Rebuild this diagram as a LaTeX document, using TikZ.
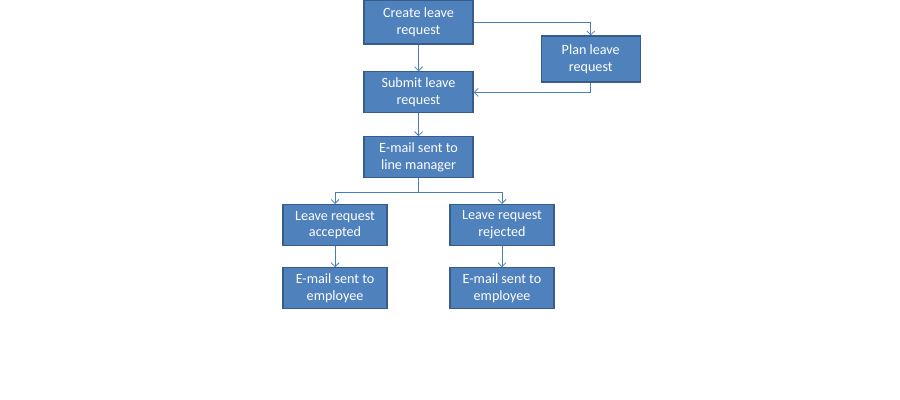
\documentclass[tikz,border=0pt]{standalone}
\usepackage{fontspec}
\setmainfont{Carlito}
\usetikzlibrary{arrows.meta, positioning}
\definecolor{boxfill}{HTML}{4F81BD}
\definecolor{boxline}{HTML}{385D8A}
\definecolor{linkline}{HTML}{4A7EBB}

\begin{document}
\begin{tikzpicture}[
    node distance=20pt,
    stepbox/.style={rectangle, draw=boxline, line width=0.9pt, fill=boxfill, text=white, align=center, minimum width=81.75pt, minimum height=30.75pt, inner sep=1pt, font=\fontsize{10.6}{12.75}\selectfont},
    arrow/.style={draw=linkline, line width=0.6pt, -{Straight Barb[length=3pt,width=6pt]}}
]
    \useasboundingbox (0,0) rectangle (675pt,-300pt);
    \node[stepbox, minimum height=33pt] (create) at (313.9pt,-16.5pt) {Create leave\\request};
    \node[stepbox, below=20pt of create] (submit) {Submit leave\\request};
    \node[stepbox, minimum width=74.25pt, minimum height=34.5pt, right=50.25pt of create, yshift=-27.75pt] (plan) {Plan leave\\request};
    \node[stepbox, below=17pt of submit] (linemgr) {E-mail sent to\\line manager};
    \node[stepbox, minimum width=78pt, below=19.25pt of linemgr, xshift=-62.6pt] (accepted) {Leave request\\accepted};
    \node[stepbox, minimum width=78pt, below=19.25pt of linemgr, xshift=62.6pt] (rejected) {Leave request\\rejected};
    \node[stepbox, minimum width=78pt, below=15.75pt of accepted] (mailacc) {E-mail sent to\\employee};
    \node[stepbox, minimum width=78pt, below=15.75pt of rejected] (mailrej) {E-mail sent to\\employee};
    \coordinate[below=10.5pt of linemgr.south] (split);

    % Arrows
    \draw[arrow] (create) -- (submit);
    \draw[arrow] (create.east) -| (plan.north);
    \draw[arrow] (plan.south) |- (submit.east);
    \draw[arrow] (submit) -- (linemgr);
    \draw[draw=linkline, line width=0.6pt] (linemgr.south) -- (split);
    \draw[arrow] (split) -| (accepted.north);
    \draw[arrow] (split) -| (rejected.north);
    \draw[arrow] (accepted) -- (mailacc);
    \draw[arrow] (rejected) -- (mailrej);
\end{tikzpicture}
\end{document}
